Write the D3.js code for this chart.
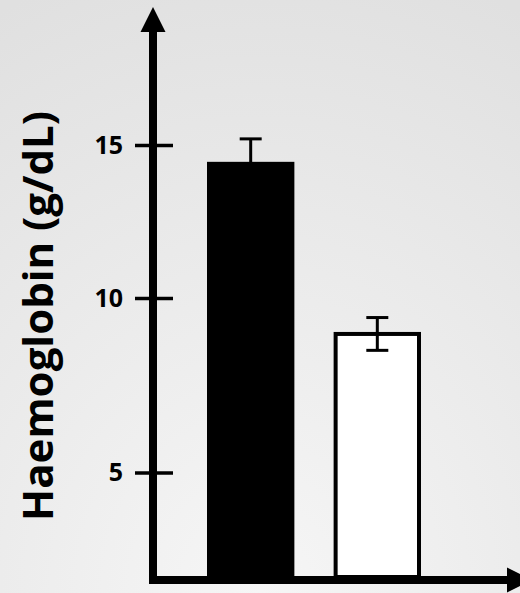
<!DOCTYPE html>
<html>
<head>
<meta charset="utf-8">
<script src="https://cdn.jsdelivr.net/npm/d3@7"></script>
<style>
  html, body { margin: 0; padding: 0; }
  body { width: 520px; height: 593px; overflow: hidden; }
</style>
</head>
<body>
<div id="chart"></div>
<script>
// data
const groups = ["Group A", "Group B"];
const means = [14.45, 8.97];
const errors = [0.75, 0.47];
const fills = ["#000000", "#ffffff"];
const tickValues = [5, 10, 15];
const yLabel = "Haemoglobin (g/dL)";

const width = 520, height = 593;
const axisX = 153, axisY = 580;

const svg = d3.select("#chart")
    .append("svg")
    .attr("width", width)
    .attr("height", height);

// background gradient
const defs = svg.append("defs");
const bg = defs.append("radialGradient")
    .attr("id", "bgGradient")
    .attr("cx", "50%").attr("cy", "100%")
    .attr("r", "110%");
bg.append("stop").attr("offset", "0%").attr("stop-color", "#f6f6f6");
bg.append("stop").attr("offset", "100%").attr("stop-color", "#e0e0e0");

svg.append("rect")
    .attr("width", width)
    .attr("height", height)
    .attr("fill", "url(#bgGradient)");

// the original axis is hand drawn, ticks are not evenly spaced
const y = d3.scaleLinear()
    .domain([5, 10, 15])
    .range([472.5, 298, 145]);

const x = d3.scaleBand()
    .domain(groups)
    .range([207, 421])
    .paddingInner(0.31)
    .paddingOuter(0);

const baseY = axisY - 3;

// bars
svg.selectAll("rect.bar")
    .data(groups)
    .enter().append("rect")
    .attr("class", "bar")
    .attr("x", (d, i) => x(d) + (i === 1 ? 2 : 0))
    .attr("width", (d, i) => x.bandwidth() - (i === 1 ? 4 : 0))
    .attr("y", (d, i) => y(means[i]))
    .attr("height", (d, i) => baseY - y(means[i]))
    .attr("fill", (d, i) => fills[i])
    .attr("stroke", (d, i) => i === 1 ? "#000" : "none")
    .attr("stroke-width", 4);

// error bars
const err = svg.append("g")
    .attr("stroke", "#000")
    .attr("stroke-width", 3);

groups.forEach((g, i) => {
    const cx = x(g) + x.bandwidth() / 2;
    const hi = y(means[i] + errors[i]);
    const lo = y(means[i] - errors[i]);
    err.append("line").attr("x1", cx).attr("x2", cx).attr("y1", hi).attr("y2", lo);
    err.append("line").attr("x1", cx - 11).attr("x2", cx + 11).attr("y1", hi).attr("y2", hi);
    err.append("line").attr("x1", cx - 11).attr("x2", cx + 11).attr("y1", lo).attr("y2", lo);
});

// y axis
const yAxis = svg.append("g")
    .attr("transform", `translate(${axisX},0)`)
    .call(d3.axisLeft(y).tickValues(tickValues).tickSize(0).tickPadding(30));

yAxis.select(".domain").remove();
yAxis.selectAll(".tick line")
    .attr("x1", -18)
    .attr("x2", 20)
    .attr("stroke", "#000")
    .attr("stroke-width", 3.5);
yAxis.selectAll(".tick text")
    .attr("font-family", "'Open Sans', sans-serif")
    .attr("font-weight", "bold")
    .attr("font-size", 25)
    .attr("fill", "#000");

// axis lines with arrows
svg.append("line")
    .attr("x1", axisX).attr("x2", axisX)
    .attr("y1", axisY + 4).attr("y2", 30)
    .attr("stroke", "#000").attr("stroke-width", 8);
svg.append("path")
    .attr("d", `M${axisX},7 L${axisX + 12.5},32 L${axisX - 12.5},32 Z`)
    .attr("fill", "#000");

svg.append("line")
    .attr("x1", axisX - 4).attr("x2", 509)
    .attr("y1", axisY).attr("y2", axisY)
    .attr("stroke", "#000").attr("stroke-width", 8);
svg.append("path")
    .attr("d", `M507,${axisY - 12.5} L532,${axisY} L507,${axisY + 12.5} Z`)
    .attr("fill", "#000");

// y label
svg.append("text")
    .attr("transform", `translate(53,316) rotate(-90)`)
    .attr("text-anchor", "middle")
    .attr("font-family", "'Open Sans', sans-serif")
    .attr("font-weight", "bold")
    .attr("font-size", 42)
    .attr("fill", "#000")
    .text(yLabel);
</script>
</body>
</html>
